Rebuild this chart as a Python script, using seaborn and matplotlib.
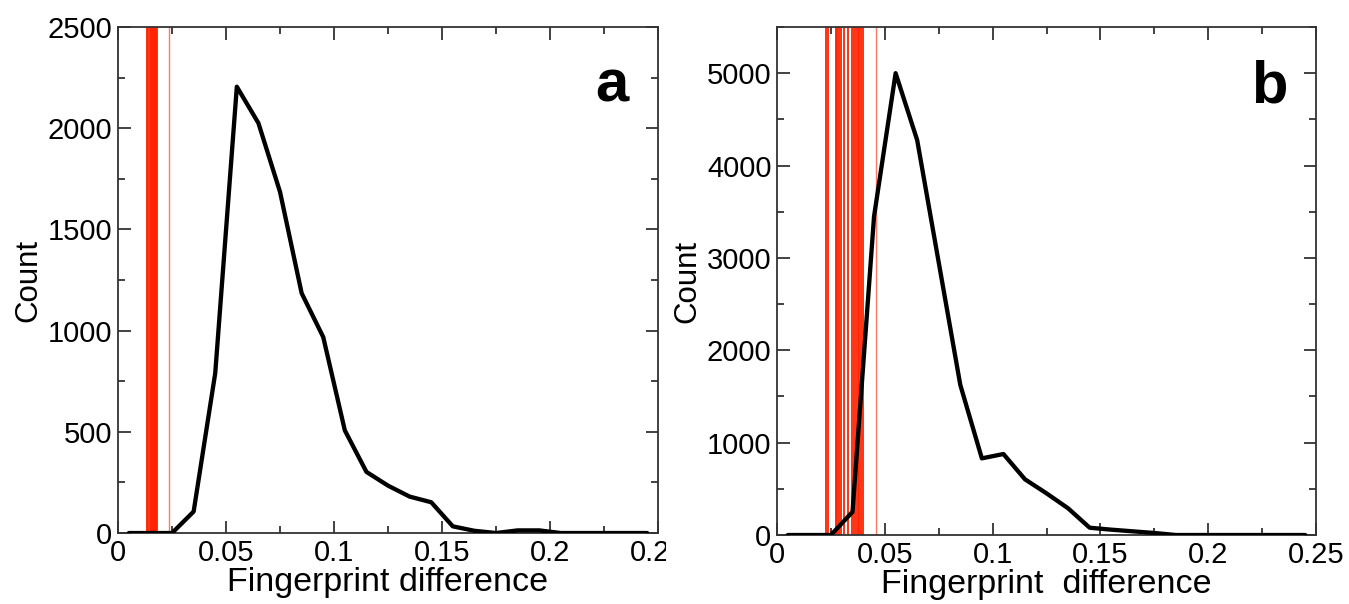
import numpy as np
import pandas as pd
import matplotlib
matplotlib.use('Agg')
import matplotlib.pyplot as plt
import seaborn as sns
from matplotlib.ticker import MultipleLocator
from matplotlib.transforms import Bbox, TransformedBbox

# histogram of fingerprint differences (bin centres) for the two data sets
bin_centres = [0.005, 0.015, 0.025, 0.035, 0.045, 0.055, 0.065, 0.075, 0.085,
               0.095, 0.105, 0.115, 0.125, 0.135, 0.145, 0.155, 0.165, 0.175,
               0.185, 0.195, 0.205, 0.215, 0.225, 0.235, 0.245]
count_a = [0, 0, 0, 106, 790, 2205, 2025, 1685, 1185, 968, 507, 302, 234, 180,
           152, 33, 11, 0, 13, 13, 0, 0, 0, 0, 0]
count_b = [0, 0, 0, 250, 3450, 5000, 4275, 2950, 1625, 830, 877, 603, 451, 289,
           79, 58, 40, 22, 0, 0, 0, 0, 0, 0, 0]

# fingerprint differences of the reference pairs (red lines)
marks_a = [0.0136, 0.0141, 0.0146, 0.0151, 0.0156, 0.0161, 0.0166, 0.0171,
           0.0176, 0.0181]
marks_a_light = [0.0235]
marks_b = [0.0228, 0.0237, 0.0272, 0.0280, 0.0289, 0.0297, 0.0310, 0.0327,
           0.0347, 0.0355, 0.0367, 0.0374, 0.0382, 0.0390, 0.0398]
marks_b_light = [0.0457]

x_ticks = [0, 0.05, 0.1, 0.15, 0.2, 0.25]
x_tick_labels = ['0', '0.05', '0.1', '0.15', '0.2', '0.25']
y_ticks_a = [0, 500, 1000, 1500, 2000, 2500]
y_ticks_b = [0, 1000, 2000, 3000, 4000, 5000]

sns.set_theme(style='ticks')
plt.rcParams['font.family'] = ['Liberation Sans', 'DejaVu Sans']
plt.rcParams['text.color'] = 'black'
plt.rcParams['axes.labelcolor'] = 'black'

df = pd.DataFrame({'diff': bin_centres, 'a': count_a, 'b': count_b})

fig = plt.figure(figsize=(13.49, 6.04), dpi=100)
ax_a = fig.add_axes([0.0875, 0.1175, 0.4003, 0.8378])
ax_b = fig.add_axes([0.5760, 0.1142, 0.3996, 0.8411])

red = '#ff2200'


def draw_panel(ax, col, marks, marks_light, ymax, yticks, yminor, letter, xlabel):
    ax.vlines(marks, 0, 1, transform=ax.get_xaxis_transform(),
              color=red, lw=1.3, zorder=1)
    ax.vlines(marks_light, 0, 1, transform=ax.get_xaxis_transform(),
              color=red, lw=1.0, alpha=0.6, zorder=1)
    sns.lineplot(data=df, x='diff', y=col, ax=ax, color='black', lw=3.1,
                 zorder=3)
    ax.set_xlim(0, 0.25)
    ax.set_ylim(0, ymax)
    ax.set_xticks(x_ticks)
    ax.set_xticklabels(x_tick_labels)
    ax.set_yticks(yticks)
    ax.set_yticklabels([str(v) for v in yticks])
    ax.xaxis.set_minor_locator(MultipleLocator(0.025))
    ax.yaxis.set_minor_locator(MultipleLocator(yminor))
    ax.tick_params(which='both', direction='in', top=True, right=True,
                   color='#333333', width=1.3, labelsize=21, labelcolor='black')
    ax.tick_params(which='major', length=9)
    ax.tick_params(which='minor', length=5)
    ax.tick_params(axis='x', pad=4)
    ax.tick_params(axis='y', pad=4)
    for s in ax.spines.values():
        s.set_color('#333333')
        s.set_linewidth(1.3)
    ax.set_xlabel(xlabel, fontsize=24.5, labelpad=0)
    ax.set_ylabel('Count', fontsize=22.5, labelpad=3)
    ax.text(0.914, 0.852, letter, transform=ax.transAxes, fontsize=43,
            fontweight='bold', ha='center', va='baseline', color='black')


draw_panel(ax_a, 'a', marks_a, marks_a_light, 2500, y_ticks_a, 250, 'a',
           'Fingerprint difference')
draw_panel(ax_b, 'b', marks_b, marks_b_light, 5500, y_ticks_b, 500, 'b',
           'Fingerprint  difference')

# last tick label of panel a is cut off in the original layout
clip = TransformedBbox(Bbox([[0, 0], [666 / 1349, 1]]), fig.transFigure)
for lab in ax_a.get_xticklabels():
    if lab.get_text() == '0.25':
        lab.set_clip_box(clip)
        lab.set_clip_on(True)

fig.savefig('out.png', dpi=100, facecolor='white')
